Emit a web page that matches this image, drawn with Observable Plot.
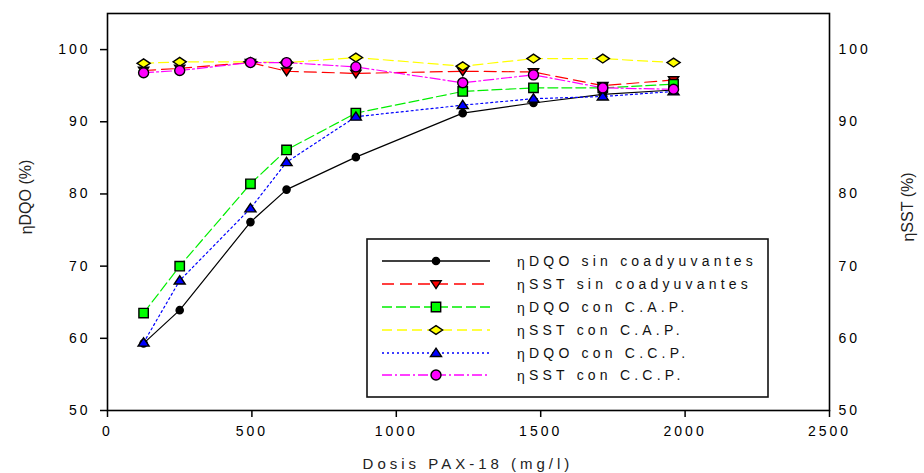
<!DOCTYPE html>
<html>
<head>
<meta charset="utf-8">
<script src="https://cdn.jsdelivr.net/npm/d3@7"></script>
<script src="https://cdn.jsdelivr.net/npm/@observablehq/plot@0.6"></script>
<style>
  html, body { margin: 0; padding: 0; background: #fff; }
  #chart svg text { font-family: "Liberation Sans", Arial, sans-serif; }
  .tick-lbl text { letter-spacing: 3px; }
</style>
</head>
<body>
<div id="chart"></div>
<script>
// ---- data ----
const dosis = [125, 250, 495, 620, 860, 1230, 1475, 1715, 1960];
const dqoSin = [59.3, 63.9, 76.1, 80.6, 85.1, 91.2, 92.6, 93.8, 94.4];
const sstSin = [97.1, 97.4, 98.2, 97.0, 96.7, 97.0, 96.9, 95.0, 95.8];
const dqoCAP = [63.5, 70.0, 81.4, 86.1, 91.2, 94.2, 94.7, 94.7, 95.2];
const sstCAP = [98.1, 98.3, 98.3, 98.2, 98.9, 97.7, 98.75, 98.75, 98.2];
const dqoCCP = [59.4, 68.0, 78.0, 84.4, 90.7, 92.3, 93.2, 93.5, 94.2];
const sstCCP = [96.8, 97.1, 98.2, 98.2, 97.6, 95.4, 96.5, 94.7, 94.5];
const seriesNames = ["DQO sin coadyuvantes", "SST sin coadyuvantes", "DQO con C.A.P.", "SST con C.A.P.", "DQO con C.C.P.", "SST con C.C.P."];
const seriesValues = [dqoSin, sstSin, dqoCAP, sstCAP, dqoCCP, sstCCP];
const xTicks = [0, 500, 1000, 1500, 2000, 2500];
const yTicks = [50, 60, 70, 80, 90, 100];

// ---- custom symbols ----
const triUp = { draw(ctx, size) { const r = Math.sqrt(size / Math.PI);
  ctx.moveTo(0, -r * 1.05); ctx.lineTo(r * 1.2, r * 0.75); ctx.lineTo(-r * 1.2, r * 0.75); ctx.closePath(); } };
const triDown = { draw(ctx, size) { const r = Math.sqrt(size / Math.PI);
  ctx.moveTo(0, r * 1.05); ctx.lineTo(r * 1.2, -r * 0.75); ctx.lineTo(-r * 1.2, -r * 0.75); ctx.closePath(); } };
const wideDiamond = { draw(ctx, size) { const r = Math.sqrt(size / Math.PI);
  ctx.moveTo(-r * 1.5, 0); ctx.lineTo(0, -r); ctx.lineTo(r * 1.5, 0); ctx.lineTo(0, r); ctx.closePath(); } };

const styles = [
  { color: "#000000", dash: null,        symbol: "circle",     r: 3.6, fill: "#000000" },
  { color: "#ff0000", dash: "12,6",      symbol: triDown,      r: 4.3, fill: "#ff0000" },
  { color: "#00ee00", dash: "10,4",      symbol: "square",     r: 5.3, fill: "#00ff00" },
  { color: "#ffff00", dash: "10,5",      symbol: wideDiamond,  r: 4.4, fill: "#ffff00" },
  { color: "#0000ff", dash: "2,3",       symbol: triUp,        r: 4.6, fill: "#0000ff" },
  { color: "#ff00ff", dash: "10,3,2,3",  symbol: "circle",     r: 5.0, fill: "#ff00ff" }
];

const rows = seriesNames.map((name, i) => dosis.map((d, j) => ({ x: d, y: seriesValues[i][j], serie: name })));

const lineMarks = rows.map((data, i) => Plot.line(data, {
  x: "x", y: "y", stroke: styles[i].color, strokeWidth: 1.2,
  strokeDasharray: styles[i].dash || undefined
}));
const dotMarks = rows.map((data, i) => Plot.dot(data, {
  x: "x", y: "y", symbol: styles[i].symbol, r: styles[i].r,
  fill: styles[i].fill, stroke: "#000", strokeWidth: 1.4
}));

const chart = Plot.plot({
  width: 924,
  height: 473,
  marginLeft: 107,
  marginRight: 95,
  marginTop: 13,
  marginBottom: 63,
  style: { fontFamily: "Liberation Sans, Arial, sans-serif", fontSize: "14px", background: "#fff", color: "#000", overflow: "visible" },
  x: { domain: [0, 2500] },
  y: { domain: [50, 105] },
  marks: [
    ...lineMarks,
    ...dotMarks,
    Plot.axisX({ ticks: xTicks, tickSize: 7, tickPadding: 9, label: null, tickFormat: d => String(d), className: "tick-lbl", strokeWidth: 1.5 }),
    Plot.axisY({ anchor: "left", ticks: yTicks, tickSize: 7, tickPadding: 10, label: null, tickFormat: d => String(d), className: "tick-lbl", strokeWidth: 1.5 }),
    Plot.axisY({ anchor: "right", ticks: yTicks, tickSize: 0, tickPadding: 9, label: null, tickFormat: d => String(d), className: "tick-lbl" }),
    Plot.frame({ stroke: "#000", strokeWidth: 1.6 })
  ]
});
document.getElementById("chart").appendChild(chart);

// ---- titles & legend ----
const svg = d3.select(chart);
function etaText(sel, rest, etaSize, dy) {
  sel.append("tspan").attr("font-size", etaSize).attr("dy", dy).text("η");
  sel.append("tspan").attr("dy", -dy).text(rest);
}
const tl = svg.append("text").attr("transform", "translate(31,197) rotate(-90)")
  .attr("text-anchor", "middle").attr("font-size", 16).attr("fill", "#222");
etaText(tl, "DQO (%)", 16, 1);
const tr = svg.append("text").attr("transform", "translate(913,207) rotate(-90)")
  .attr("text-anchor", "middle").attr("font-size", 16).attr("fill", "#222");
etaText(tr, "SST (%)", 16, 1);
svg.append("text").attr("x", 468).attr("y", 469).attr("text-anchor", "middle")
  .attr("font-size", 15).attr("letter-spacing", "4px").attr("fill", "#222").text("Dosis PAX-18 (mg/l)");

const lg = svg.append("g");
lg.append("rect").attr("x", 367).attr("y", 239).attr("width", 401).attr("height", 158)
  .attr("fill", "#fff").attr("stroke", "#111").attr("stroke-width", 1.6);
const rowY = [261, 284, 307, 330, 353, 375];
seriesNames.forEach((name, i) => {
  const s = styles[i], y = rowY[i];
  lg.append("line").attr("x1", 382).attr("x2", 490).attr("y1", y).attr("y2", y)
    .attr("stroke", s.color).attr("stroke-width", 1.4).attr("stroke-dasharray", s.dash);
  const symType = typeof s.symbol === "string" ? (s.symbol === "square" ? d3.symbolSquare : d3.symbolCircle) : s.symbol;
  lg.append("path").attr("transform", `translate(436,${y})`)
    .attr("d", d3.symbol(symType, s.r * s.r * Math.PI)())
    .attr("fill", s.fill).attr("stroke", "#000").attr("stroke-width", 1.4);
  const t = lg.append("text").attr("x", 517).attr("y", y + 5).attr("font-size", 14)
    .attr("text-anchor", "start").attr("letter-spacing", "4.2px").attr("fill", "#111");
  etaText(t, name, 14, 1);
});
</script>
</body>
</html>
